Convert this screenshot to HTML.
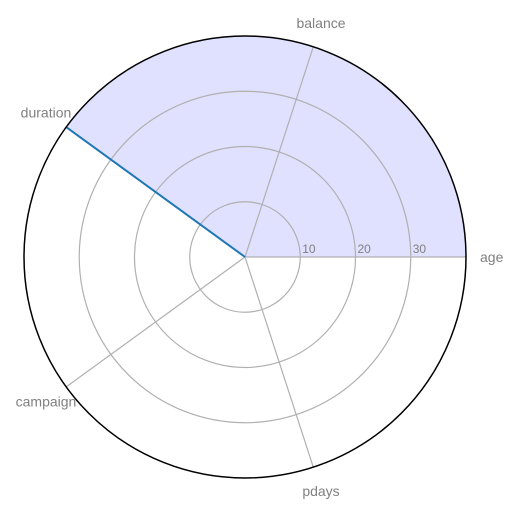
<!DOCTYPE html>
<html><head><meta charset="utf-8"><style>
body{margin:0;background:#fff}
svg text{font-family:"Liberation Sans",sans-serif;fill:#808080}
</style></head><body>
<svg id="chart" width="521" height="512" viewBox="0 0 521 512">
<defs><clipPath id="clip"><circle cx="245" cy="257" r="221"/></clipPath></defs>
<g id="fillLayer" clip-path="url(#clip)"></g>
<g id="grid"></g>
<g id="lineLayer" clip-path="url(#clip)"></g>
<circle cx="245" cy="257" r="221" fill="none" stroke="#000" stroke-width="1.5"/>
<g id="labels"></g>
</svg>
<script>
const categories=["age","balance","duration","campaign","pdays"];
const seriesValues=[40,1500,250,0,0];
const tickValues=[10,20,30];
const tickLabels=["10","20","30"];
const maxValue=40;
const cx=245,cy=257,R=221,NS="http://www.w3.org/2000/svg";
function rScale(v){return v/maxValue*R;}
function angle(i){return i*2*Math.PI/categories.length;}
function pt(i,v){const a=angle(i),r=rScale(v);return [cx+r*Math.cos(a),cy-r*Math.sin(a)];}
function mk(tag,attrs,parent){const e=document.createElementNS(NS,tag);for(const k in attrs)e.setAttribute(k,attrs[k]);parent.appendChild(e);return e;}
const grid=document.getElementById('grid'),labels=document.getElementById('labels');
tickValues.forEach((t,i)=>{
 const c=mk('circle',{cx:cx,cy:cy,r:rScale(t),fill:'none',stroke:'#b0b0b0','stroke-width':1.2},grid);
 
 
 const tx=mk('text',{x:cx+rScale(t)+2,y:cy-4,'font-size':12},labels);
 tx.textContent=tickLabels[i];
 
 
});
categories.forEach((c,i)=>{
 const p=pt(i,maxValue);
 const l=mk('line',{x1:cx,y1:cy,x2:p[0],y2:p[1],stroke:'#b0b0b0','stroke-width':1.2},grid);
 
 
 const a=angle(i),lr=R+25;
 let x=cx+lr*Math.cos(a),y=cy-lr*Math.sin(a)+5;
 let anchor='middle';
 if(Math.cos(a)>0.9){x=R+cx+14;anchor='start';}
 const tx=mk('text',{x:x,y:y,'font-size':14,'text-anchor':anchor},labels);
 tx.textContent=c;
 
 
});
const pts=seriesValues.map((v,i)=>pt(i,v));
const dOpen='M'+pts.map(p=>p[0]+','+p[1]).join('L');
const poly=mk('path',{d:dOpen+'Z',fill:'#e0e0ff',stroke:'none'},document.getElementById('fillLayer'));


const line=mk('path',{d:dOpen,fill:'none',stroke:'#1f77b4','stroke-width':2},document.getElementById('lineLayer'));


</script>
</body></html>
